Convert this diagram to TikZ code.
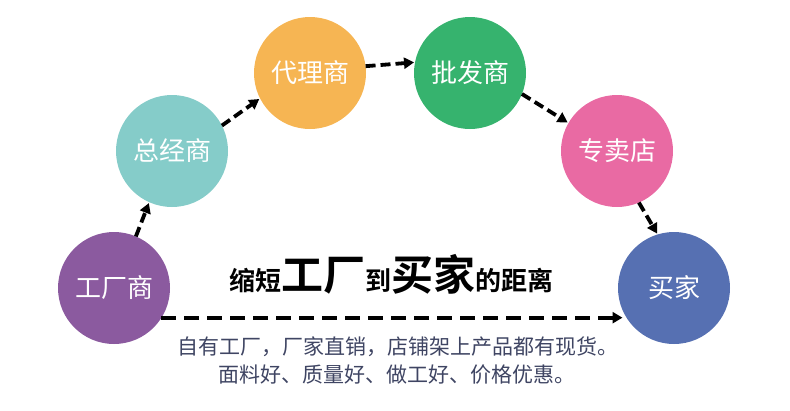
\documentclass[tikz,border=0pt]{standalone}
\usepackage{fontspec}
\usetikzlibrary{arrows.meta,calc}
\newfontfamily\cjk{Noto Sans CJK SC}
\newfontfamily\cjkb{Noto Sans CJK SC Bold}
\definecolor{cpurple}{HTML}{8B5A9F}
\definecolor{cteal}{HTML}{85CCC9}
\definecolor{corange}{HTML}{F6B553}
\definecolor{cgreen}{HTML}{36B36E}
\definecolor{cpink}{HTML}{E96AA3}
\definecolor{cblue}{HTML}{5670B2}
\definecolor{subtxt}{HTML}{3F4563}
\tikzset{
  ball/.style={circle, minimum size=112pt, inner sep=0pt, outer sep=0pt,
    text=white, font=\cjk\fontsize{26}{26}\selectfont},
  flow/.style={draw=black, line width=3.8pt, dash pattern=on 10pt off 5pt,
    -{Triangle[length=10pt,width=11pt]}, shorten >=1pt},
  longflow/.style={flow, dash pattern=on 15pt off 8pt, shorten >=4pt}
}
\begin{document}
\begin{tikzpicture}[x=1pt,y=-1pt]
\useasboundingbox (0,0) rectangle (790,410);
\node[ball, fill=cpurple] (gc) at (114,288) {工厂商};
\node[ball, fill=cteal] (zj) at (172,151) {总经商};
\node[ball, fill=corange] (dl) at (310,73) {代理商};
\node[ball, fill=cgreen] (pf) at (470,73) {批发商};
\node[ball, fill=cpink] (zm) at (617,151) {专卖店};
\node[ball, fill=cblue] (mj) at (674,288) {买家};

\draw[flow] (gc.67) -- (zj.246);
\draw[flow] (zj.27) -- (dl.207);
\draw[flow] (dl.7) -- (pf.169);
\draw[flow] (pf.-22) -- (zm.150);
\draw[flow] (zm.-67) -- (mj.107);
\draw[longflow] (gc.-32) -- (mj.212);

\node[anchor=base, inner sep=0pt] (title) at (391,290) {\cjkb
  {\fontsize{26}{26}\selectfont 缩短}{\fontsize{42}{42}\selectfont 工厂}{\fontsize{26}{26}\selectfont 到}{\fontsize{42}{42}\selectfont 买家}{\fontsize{26}{26}\selectfont 的距离}};

\node[text=subtxt, font=\cjk\fontsize{21}{21}\selectfont, inner sep=0pt] (s1) at (398,347) {自有工厂，厂家直销，店铺架上产品都有现货。};
\node[text=subtxt, font=\cjk\fontsize{21}{21}\selectfont, inner sep=0pt] (s2) at (397,375) {面料好、质量好、做工好、价格优惠。};
\end{tikzpicture}
\end{document}
